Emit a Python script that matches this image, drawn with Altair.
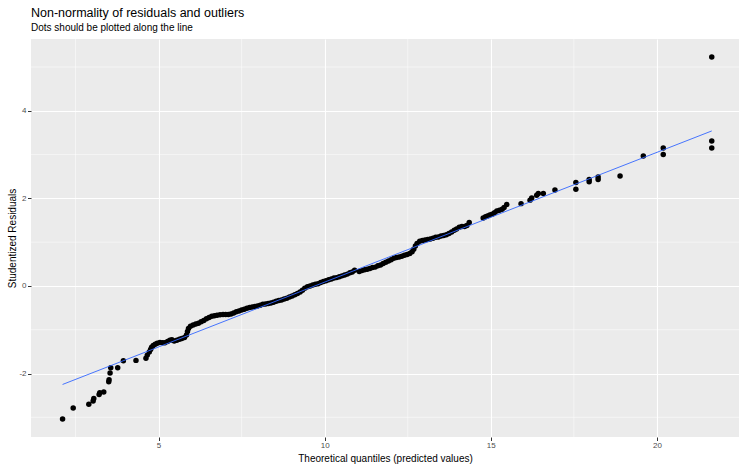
import altair as alt
import pandas as pd

# Theoretical quantiles (sorted predicted values) and studentized residuals
quantiles = [
    2.11, 2.43, 2.90, 3.03, 3.05, 3.21, 3.23, 3.35, 3.50, 3.51, 3.54, 3.56, 3.77, 3.94, 4.32,
    4.62, 4.66, 4.72, 4.76, 4.79, 4.84, 4.90, 4.96, 5.04, 5.12, 5.19, 5.27, 5.34, 5.40, 5.47,
    5.55, 5.63, 5.70, 5.78, 5.84, 5.87, 5.90, 5.96, 6.04, 6.12, 6.20, 6.28, 6.36, 6.44, 6.52,
    6.60, 6.68, 6.76, 6.85, 6.94, 7.02, 7.10, 7.18, 7.26, 7.34, 7.42, 7.50, 7.58, 7.66, 7.74,
    7.82, 7.90, 7.98, 8.06, 8.14, 8.22, 8.30, 8.38, 8.46, 8.54, 8.62, 8.70, 8.78, 8.86, 8.94,
    9.02, 9.10, 9.18, 9.26, 9.33, 9.40, 9.48, 9.56, 9.64, 9.72, 9.80, 9.88, 9.96, 10.04, 10.12,
    10.20, 10.28, 10.36, 10.44, 10.52, 10.60, 10.68, 10.76, 10.83, 10.90, 11.04, 11.12, 11.20,
    11.28, 11.36, 11.44, 11.52, 11.60, 11.68, 11.76, 11.84, 11.92, 12.00, 12.08, 12.16, 12.24,
    12.32, 12.40, 12.48, 12.56, 12.63, 12.68, 12.73, 12.78, 12.86, 12.94, 13.02, 13.10, 13.18,
    13.26, 13.34, 13.42, 13.50, 13.58, 13.66, 13.74, 13.82, 13.90, 13.97, 14.05, 14.13, 14.21,
    14.28, 14.35, 14.77, 14.84, 14.90, 14.97, 15.04, 15.11, 15.18, 15.26, 15.34, 15.40, 15.48,
    15.91, 16.18, 16.23, 16.38, 16.43, 16.58, 16.93, 17.56, 17.56, 17.96, 17.96, 18.23, 18.23,
    18.89, 19.59, 20.19, 20.19, 21.65, 21.65, 21.65,
]
residuals = [
    -3.04, -2.79, -2.70, -2.63, -2.57, -2.48, -2.44, -2.42, -2.19, -2.14, -1.99, -1.87, -1.87, -1.71, -1.70,
    -1.65, -1.58, -1.51, -1.45, -1.40, -1.36, -1.33, -1.31, -1.29, -1.30, -1.30, -1.27, -1.24, -1.23, -1.26,
    -1.24, -1.22, -1.20, -1.18, -1.12, -1.04, -0.97, -0.92, -0.89, -0.87, -0.85, -0.82, -0.79, -0.75, -0.72,
    -0.69, -0.68, -0.67, -0.66, -0.65, -0.65, -0.65, -0.64, -0.62, -0.59, -0.57, -0.55, -0.53, -0.51, -0.49,
    -0.48, -0.47, -0.46, -0.44, -0.42, -0.41, -0.40, -0.39, -0.37, -0.35, -0.33, -0.32, -0.30, -0.28, -0.25,
    -0.23, -0.20, -0.17, -0.14, -0.10, -0.05, -0.02, 0.00, 0.02, 0.04, 0.05, 0.08, 0.10, 0.12, 0.14,
    0.16, 0.18, 0.19, 0.21, 0.23, 0.25, 0.27, 0.30, 0.32, 0.36, 0.33, 0.35, 0.37,
    0.38, 0.40, 0.42, 0.43, 0.46, 0.48, 0.51, 0.54, 0.57, 0.60, 0.63, 0.65, 0.66,
    0.68, 0.70, 0.72, 0.74, 0.78, 0.84, 0.91, 0.97, 1.02, 1.04, 1.05, 1.06, 1.07,
    1.09, 1.11, 1.12, 1.14, 1.15, 1.17, 1.20, 1.23, 1.27, 1.30, 1.34, 1.36, 1.36,
    1.38, 1.45, 1.55, 1.58, 1.60, 1.62, 1.64, 1.67, 1.71, 1.73, 1.75, 1.79, 1.86,
    1.88, 1.96, 2.01, 2.07, 2.11, 2.11, 2.19, 2.21, 2.36, 2.38, 2.43, 2.43, 2.49,
    2.51, 2.97, 3.00, 3.15, 3.15, 3.31, 5.23,
]

# Least-squares reference line across the data range
fit_x = [2.11, 21.65]
fit_y = [-2.25, 3.54]

# Axis breaks and minor grid positions
x_breaks = [5, 10, 15, 20]
y_breaks = [-2, 0, 2, 4]
x_minor = [2.5, 7.5, 12.5, 17.5]
y_minor = [-3, -1, 1, 3, 5]

x_domain = [1.16, 22.47]
y_domain = [-3.45, 5.64]

FONT = "Liberation Sans"

points = pd.DataFrame({"q": quantiles, "r": residuals})
fit = pd.DataFrame({"q": fit_x, "r": fit_y})

x_scale = alt.Scale(domain=x_domain, nice=False, zero=False)
y_scale = alt.Scale(domain=y_domain, nice=False, zero=False)

neg_label = "datum.value < 0 ? '-' + abs(datum.value) : '' + datum.value"

x_axis = alt.Axis(
    values=x_breaks, title="Theoretical quantiles (predicted values)",
    labelExpr=neg_label, grid=True, gridColor="white", gridWidth=1.1,
    domain=False, ticks=True, tickColor="#333333", tickSize=3.5, tickWidth=1,
    labelColor="#4D4D4D", labelFontSize=8, labelFont=FONT, labelPadding=1,
    titleFont=FONT, titleFontSize=10, titleFontWeight="normal", titleColor="black",
    titleY=24, titleBaseline="alphabetic",
)
y_axis = alt.Axis(
    values=y_breaks, title="Studentized Residuals",
    labelExpr=neg_label, grid=True, gridColor="white", gridWidth=1.1,
    domain=False, ticks=True, tickColor="#333333", tickSize=3.5, tickWidth=1,
    labelColor="#4D4D4D", labelFontSize=8, labelFont=FONT, labelPadding=1.5,
    titleFont=FONT, titleFontSize=10, titleFontWeight="normal", titleColor="black",
    titleX=-16, titleY=199, titleAngle=270, titleBaseline="alphabetic", titleAlign="center",
)

minor_v = alt.Chart(pd.DataFrame({"q": x_minor})).mark_rule(
    color="white", strokeWidth=0.5
).encode(x=alt.X("q:Q", scale=x_scale, axis=x_axis))

minor_h = alt.Chart(pd.DataFrame({"r": y_minor})).mark_rule(
    color="white", strokeWidth=0.5
).encode(y=alt.Y("r:Q", scale=y_scale, axis=y_axis))

dots = alt.Chart(points).mark_circle(size=30, color="black", opacity=1).encode(
    x=alt.X("q:Q", scale=x_scale, axis=x_axis),
    y=alt.Y("r:Q", scale=y_scale, axis=y_axis),
)

line = alt.Chart(fit).mark_line(color="#3366FF", strokeWidth=0.9).encode(
    x=alt.X("q:Q", scale=x_scale, axis=x_axis),
    y=alt.Y("r:Q", scale=y_scale, axis=y_axis),
)

chart = (
    alt.layer(minor_v, minor_h, dots, line)
    .properties(
        width=708,
        height=398,
        background="white",
        autosize=alt.AutoSizeParams(type="none"),
        padding={"left": 31, "top": 39, "right": 2, "bottom": 33},
        title=alt.Title(
            text="Non-normality of residuals and outliers",
            subtitle="Dots should be plotted along the line",
            anchor="start", frame="group", orient="top",
            font=FONT, fontSize=12.5, fontWeight="normal", color="black",
            subtitleFont=FONT, subtitleFontSize=10, subtitleColor="black",
            offset=6, subtitlePadding=3,
        ),
    )
    .configure_view(fill="#EBEBEB", stroke=None)
)

chart.save("out.html", embed_options={"renderer": "svg", "actions": False})
